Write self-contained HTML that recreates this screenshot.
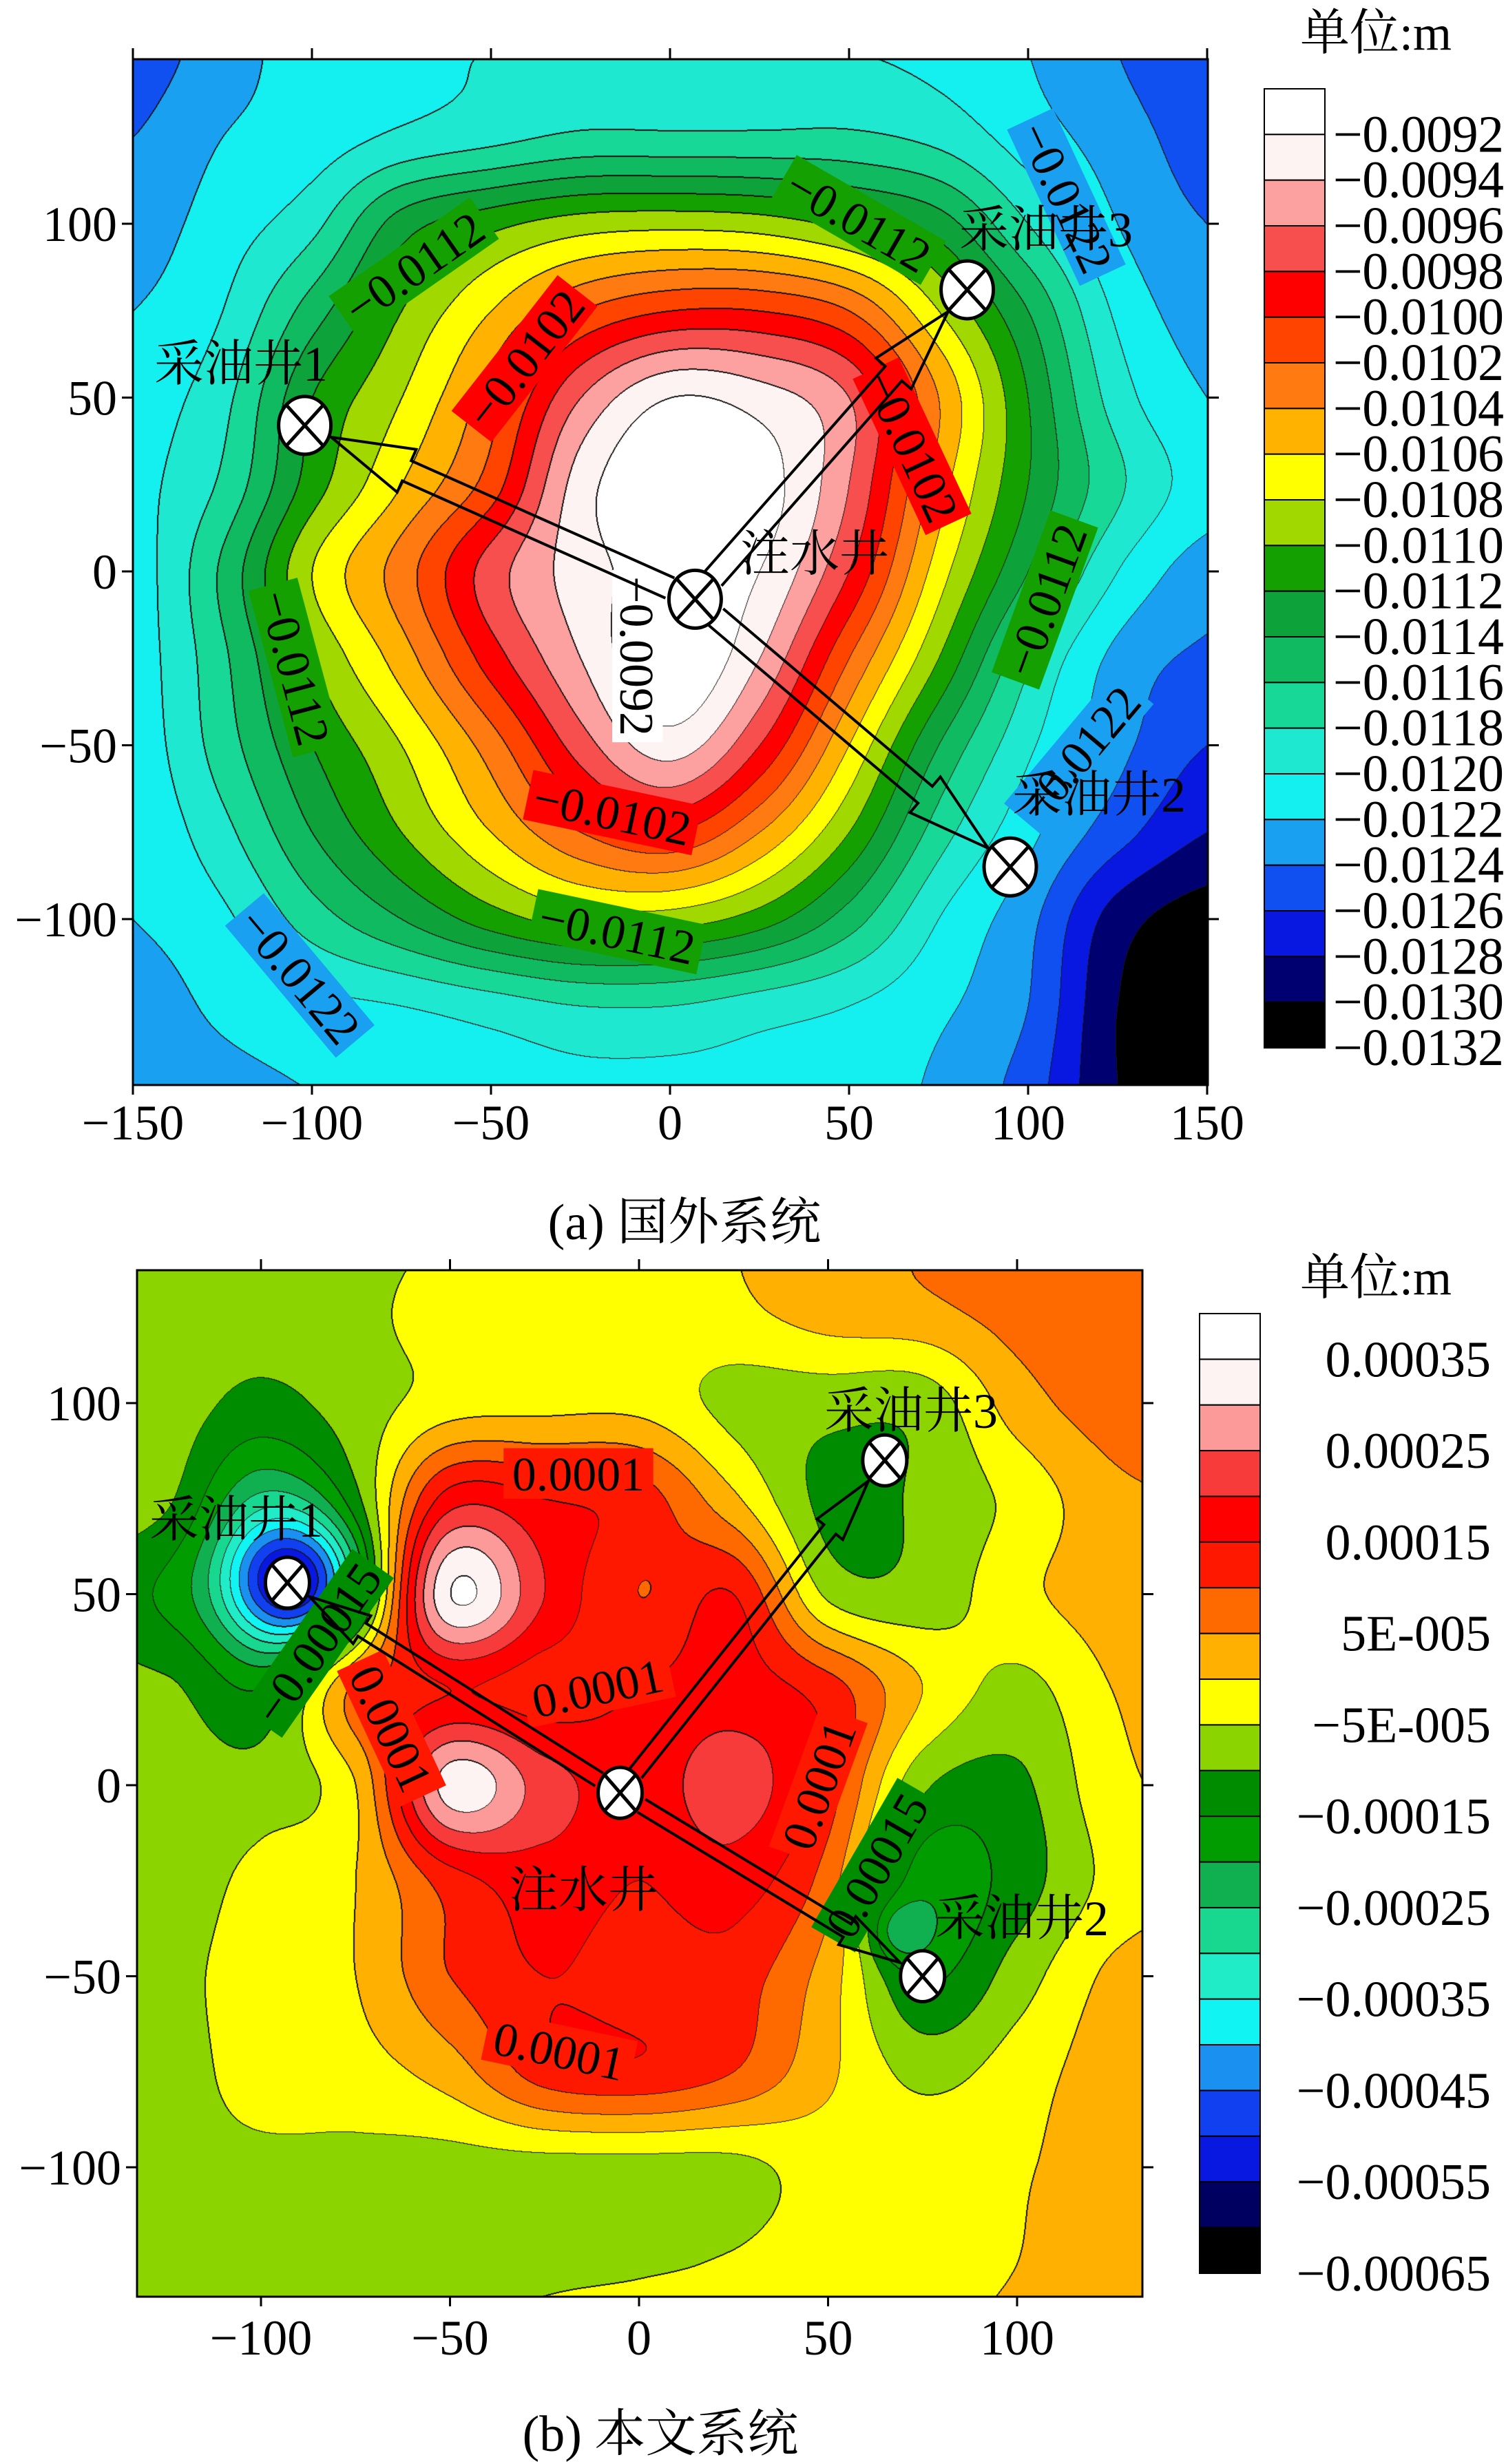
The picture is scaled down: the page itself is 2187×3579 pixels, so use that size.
<!DOCTYPE html>
<html><head><meta charset="utf-8">
<style>
html,body{margin:0;padding:0;background:#fff;}
#root{position:relative;width:2187px;height:3579px;overflow:hidden;background:#fff;}
canvas{position:absolute;}
svg{position:absolute;left:0;top:0;}
text{font-family:"Liberation Serif","Noto Serif CJK SC",serif;fill:#000;}
</style></head>
<body>
<div id="root">
<canvas id="cA" width="1561" height="1490" style="left:193px;top:86px"></canvas>
<canvas id="cB" width="1460" height="1491" style="left:199px;top:1845px"></canvas>
<svg id="ov" width="2187" height="3579"></svg>
</div>
<script>
// ---------- data ----------
const gridX = [-150,-125,-100,-75,-50,-25,0,25,50,75,100,125,150];
const gridY = [150,125,100,75,50,25,0,-25,-50,-75,-100,-125,-150];
// band index field (0 = top of colour scale), chart a
const fieldA = [
[17.5,16.5,15.5,15.2,15,15,15,15,15,15.3,16,17,18],
[17,16,15.5,14.8,14.3,13.8,13.8,13.8,13.8,14.3,15.5,16.5,17.5],
[16.5,15.5,14.3,11.5,10.3,9.5,9.3,9.5,10.3,11.5,14,16,17],
[16,15,12.5,10,8,6,5,5,6,9,12,15.2,16.5],
[15.5,14.3,11,9,6.5,3,1,1.5,3,7,11,14.5,16],
[15.3,13.8,10.5,8,5.5,1.5,0,0.5,3,7.5,11,13.8,15.5],
[15.5,12.8,9,6.5,3.5,1.5,0.5,1,4,8.5,12,15,16.5],
[15.5,13.2,10,7.5,4.5,2,0,2,6,10,13.8,16.3,17.2],
[15.6,13.5,11,9,6.5,3.5,1.5,4,8,12,14.8,16.7,18],
[15.8,14.3,12,10,8,6,5,7,10,13.5,15.7,17.6,19],
[16,15.2,13.5,12,10.5,9.5,9.5,10.5,12.5,15,16.7,19.5,20.5],
[16.5,15.8,15.3,15,14.5,14,14,14.5,15,15.8,17,20,20.5],
[16.8,16.3,16,15.8,15.5,15.3,15.3,15.3,15.5,16.2,17.5,20,20.5]];
// chart b
const fieldB = [
[9.5,9.5,9.5,9.5,9,8.5,8.5,8,7.5,7,6.5,6,6],
[9.5,9.5,9.5,9.3,8.5,8.5,8.5,8.2,7.5,7.2,6.6,6.3,6],
[9.5,9.5,10.3,9.5,8.5,8.3,8.3,9.3,9.6,9.6,7.5,6.5,6.2],
[9.3,9.8,12,9.8,4.5,5,5.5,7.8,10.3,9.8,8.7,7.3,7],
[10,11,11,10,1,4,6,5,9.2,9.6,8.3,7.5,7.3],
[9.5,9.8,10.5,6.5,5,5.5,5,4.5,5.5,8,9.3,8,7.5],
[8.8,9.3,9.5,8,1.5,3.5,4.5,3.5,5.5,9.8,10.2,8.3,7.8],
[9.3,9.5,8.7,8,5.5,4.5,5,4.5,6.5,11.5,10.5,8.7,8],
[9.5,9.3,8.5,8,6,5,5.5,5.5,7.5,11,9.5,7.8,7.5],
[9.5,9.5,8.5,8.4,7.5,5.5,5.2,6,7.8,9.3,8.5,7.5,7.3],
[9.5,9.4,9.3,9.3,9.4,9.4,9.4,9.3,8.5,8.3,8.1,7.5,7.3],
[9.5,9.5,9.6,9.5,9.4,9.2,9.1,8.9,8.3,8.2,8,7.5,7.3],
[9.5,9.5,9.5,9.4,9,8.6,8.4,8.3,8.2,8.1,7.8,7.4,7.2]];
const peakX = [-93, 68];
const peakY = [53, -38];
const peakAmp = [8.5, 2];
const peakSigma = [12, 6];
const paletteA = ['#ffffff','#fdf3f2','#fca0a0','#f74e4e','#ff0000','#ff4400','#ff7a10','#ffb300','#ffff00','#a0d800','#14a000','#0ea23a','#10ba60','#18d898','#1ee8d0','#14f0f0','#1aa0f0','#1050f0','#0818e0','#000070','#000000'];
const paletteB = ['#ffffff','#fdf3f2','#fc9a9a','#f73a3a','#ff0000','#ff1800','#ff6a00','#ffb000','#ffff00','#8cd400','#008c00','#009c00','#10b050','#18d890','#20ecc8','#10f4f4','#1a90f0','#1040f0','#0818e0','#000060','#000000'];
const cbLabelsA = ['−0.0092','−0.0094','−0.0096','−0.0098','−0.0100','−0.0102','−0.0104','−0.0106','−0.0108','−0.0110','−0.0112','−0.0114','−0.0116','−0.0118','−0.0120','−0.0122','−0.0124','−0.0126','−0.0128','−0.0130','−0.0132'];
const cbLabelsB = ['0.00035','0.00025','0.00015','5E-005','−5E-005','−0.00015','−0.00025','−0.00035','−0.00045','−0.00055','−0.00065'];
const xTicksA = [-150,-100,-50,0,50,100,150];
const yTicksA = [-100,-50,0,50,100];
const xTicksB = [-100,-50,0,50,100];
const yTicksB = [-100,-50,0,50,100];
const wellNames = ['采油井1','采油井2','采油井3','注水井'];
const wellXA = [-102, 95, 83, 7];
const wellYA = [42, -85, 81, -8];
const wellXB = [-93, 75, 65, -5];
const wellYB = [53, -50, 85, -2];

// ---------- axes ----------
const axA = {x:v=>193+(v+150)*5.2, y:v=>830-5.05*v, inv:(px,py)=>[(px-193)/5.2-150,(830-py)/5.05], left:193,top:86,w:1561,h:1490};
const axB = {x:v=>928+5.49*v, y:v=>2593-5.55*v, inv:(px,py)=>[(px-928)/5.49,(2593-py)/5.55], left:199,top:1845,w:1460,h:1491};

function cr(p0,p1,p2,p3,t){return 0.5*((2*p1)+(-p0+p2)*t+(2*p0-5*p1+4*p2-p3)*t*t+(-p0+3*p1-3*p2+p3)*t*t*t);}
function sample(g,x,y){
  const gx=(x-gridX[0])/25, gy=(gridY[0]-y)/25;
  let i=Math.floor(gx), j=Math.floor(gy);
  i=Math.max(0,Math.min(11,i)); j=Math.max(0,Math.min(11,j));
  const tx=gx-i, ty=gy-j;
  const n=gridX.length;
  const c=k=>Math.max(0,Math.min(n-1,k));
  const rows=[];
  for(let r=-1;r<=2;r++){const row=g[c(j+r)];rows.push(cr(row[c(i-1)],row[c(i)],row[c(i+1)],row[c(i+2)],tx));}
  return cr(rows[0],rows[1],rows[2],rows[3],ty);
}
function hex(h){return [parseInt(h.slice(1,3),16),parseInt(h.slice(3,5),16),parseInt(h.slice(5,7),16)];}
function drawField(id,ax,g,pal,usePeaks){
  const cv=document.getElementById(id),ctx=cv.getContext('2d');
  const W=ax.w,H=ax.h,band=new Uint8Array(W*H);
  for(let py=0;py<H;py++){for(let px=0;px<W;px++){
    const d=ax.inv(ax.left+px,ax.top+py);
    let v=sample(g,d[0],d[1]);
    if(usePeaks){for(let k=0;k<peakX.length;k++){const dx=d[0]-peakX[k],dy=d[1]-peakY[k];v+=peakAmp[k]*Math.exp(-(dx*dx+dy*dy)/(2*peakSigma[k]*peakSigma[k]));}}
    band[py*W+px]=Math.max(0,Math.min(20,Math.floor(v)));
  }}
  const img=ctx.createImageData(W,H),cols=pal.map(hex);
  for(let p=0;p<W*H;p++){
    let b=band[p],line=false;
    const px=p%W;
    if(px<W-1&&band[p+1]!==b)line=true;
    if(px>0&&band[p-1]!==b&&band[p-1]>b)line=true;
    if(p+W<W*H&&band[p+W]!==b)line=true;
    if(p-W>=0&&band[p-W]!==b&&band[p-W]>b)line=true;
    const c=line?[20,20,20]:cols[b];
    img.data[p*4]=c[0];img.data[p*4+1]=c[1];img.data[p*4+2]=c[2];img.data[p*4+3]=255;
  }
  ctx.putImageData(img,0,0);
}
drawField('cA',axA,fieldA,paletteA,false);
drawField('cB',axB,fieldB,paletteB,true);

// ---------- svg overlay ----------
const NS='http://www.w3.org/2000/svg', ov=document.getElementById('ov');
function el(tag,attrs,parent){const e=document.createElementNS(NS,tag);for(const k in attrs)e.setAttribute(k,attrs[k]);(parent||ov).appendChild(e);return e;}
function txt(s,x,y,size,anchor,parent){const t=el('text',{x:x,y:y,'font-size':size,'text-anchor':anchor||'start'},parent);t.textContent=s;return t;}

function frame(ax,xt,yt,fs,xlabY,ylabX){
  const r=el('rect',{x:ax.left,y:ax.top,width:ax.w,height:ax.h,fill:'none',stroke:'#000','stroke-width':3});
  
  
  xt.forEach(v=>{const x=ax.x(v);
    const t1=el('line',{x1:x,y1:ax.top,x2:x,y2:ax.top-16,stroke:'#000','stroke-width':3});
    
    
    const t2=el('line',{x1:x,y1:ax.top+ax.h,x2:x,y2:ax.top+ax.h+14,stroke:'#000','stroke-width':3});
    
    
    const l=txt(String(v).replace('-','−'),x,xlabY,fs,'middle');
    
    });
  yt.forEach(v=>{const y=ax.y(v);
    const t1=el('line',{x1:ax.left,y1:y,x2:ax.left-16,y2:y,stroke:'#000','stroke-width':3});
    
    
    const t2=el('line',{x1:ax.left+ax.w,y1:y,x2:ax.left+ax.w+16,y2:y,stroke:'#000','stroke-width':3});
    
    
    const l=txt(String(v).replace('-','−'),ylabX,y+25,fs,'end');
    
    });
}
frame(axA,xTicksA,yTicksA,72,1655,170);
frame(axB,xTicksB,yTicksB,72,3420,176);

function colorbar(x,top,bottom,pal,name){
  const h=(bottom-top)/pal.length;
  pal.forEach((c,k)=>{const r=el('rect',{x:x,y:top+k*h,width:88,height:h,fill:c,stroke:'#000','stroke-width':2});
    
    });
  return h;
}
const hA=colorbar(1836,129,1522,paletteA,'colorbar-a');
cbLabelsA.forEach((s,k)=>{const t=txt(s,1936,129+(k+1)*hA+25,76,'start');t.setAttribute('textLength',248);
  
  });
const hB=colorbar(1742,1908,3302,paletteB,'colorbar-b');
cbLabelsB.forEach((s,k)=>{const t=txt(s,2165,1908+(2*k+1)*hB+25,74,'end');
  
  });
[[1998,72],[1998,1880]].forEach((p,i)=>{const t=txt('单位:m',p[0],p[1],72,'middle');
  
  });
const capA=txt('(a) 国外系统',994,1800,74,'middle');


const capB=txt('(b) 本文系统',959,3560,74,'middle');



// contour labels
function clabel(s,cx,cy,rot,fill,fs,name){
  const g=el('g',{transform:`translate(${cx},${cy}) rotate(${rot})`});
  
  
  const w=s.length*fs*0.47+20;
  if(fill)el('rect',{x:-w/2,y:-fs*0.55,width:w,height:fs*1.05,fill:fill},g);
  txt(s,0,fs*0.33,fs,'middle',g);
}
clabel('−0.0112',602,390,-35,'#14a000',70,'contour-label');
clabel('−0.0112',1246,321,30,'#14a000',70,'contour-label');
clabel('−0.0122',1547,287,65,'#1aa0f0',70,'contour-label');
clabel('−0.0102',763,522,-52,'#ff0000',70,'contour-label');
clabel('−0.0102',1323,649,65,'#ff0000',70,'contour-label');
clabel('−0.0112',1519,872,-70,'#14a000',70,'contour-label');
clabel('−0.0112',427,970,75,'#14a000',70,'contour-label');
clabel('−0.0092',924,953,90,'#ffffff',70,'contour-label');
clabel('−0.0122',1568,1096,-50,'#1aa0f0',70,'contour-label');
clabel('−0.0102',889,1182,12,'#ff0000',70,'contour-label');
clabel('−0.0112',896,1355,12,'#14a000',70,'contour-label');
clabel('−0.0122',434,1418,50,'#1aa0f0',70,'contour-label');
clabel('0.0001',840,2142,0,'#ff1800',70,'contour-label');
clabel('−0.00015',462,2388,-55,'#008c00',70,'contour-label');
clabel('0.0001',567,2511,65,'#ff1800',70,'contour-label');
clabel('0.0001',868,2453,-12,'#ff1800',70,'contour-label');
clabel('0.0001',1190,2593,-70,'#ff1800',70,'contour-label');
clabel('0.00015',1274,2710,-60,'#008c00',70,'contour-label');
clabel('0.0001',812,2980,12,'#ff1800',70,'contour-label');

// arrows
function arrow(ax,x0,y0,x1,y1,w,h,L,r0,r1){
  const X0=ax.x(x0),Y0=ax.y(y0),X1=ax.x(x1),Y1=ax.y(y1);
  const dx=X1-X0,dy=Y1-Y0,len=Math.hypot(dx,dy),ux=dx/len,uy=dy/len,nx=-uy,ny=ux;
  const sx=X0+ux*r0,sy=Y0+uy*r0,tx=X1-ux*r1,ty=Y1-uy*r1,bx=tx-ux*L,by=ty-uy*L;
  const pts=[[sx+nx*w,sy+ny*w],[bx+nx*w,by+ny*w],[bx+nx*h,by+ny*h],[tx,ty],[bx-nx*h,by-ny*h],[bx-nx*w,by-ny*w],[sx-nx*w,sy-ny*w]];
  const p=el('polyline',{points:pts.map(q=>q.join(',')).join(' '),fill:'none',stroke:'#000','stroke-width':4,'stroke-linejoin':'miter'});
  
  
}
for(let k=0;k<3;k++)arrow(axA,wellXA[3],wellYA[3],wellXA[k],wellYA[k],16,34,120,40,42);
for(let k=0;k<3;k++)arrow(axB,wellXB[3],wellYB[3],wellXB[k],wellYB[k],11,24,90,36,38);

// wells
function well(ax,x,y,rx,ry){
  const X=ax.x(x),Y=ax.y(y);
  const g=el('g',{});
  
  
  el('ellipse',{cx:X,cy:Y,rx:rx,ry:ry,fill:'#fff',stroke:'#000','stroke-width':5},g);
  const d=rx*0.7,e=ry*0.7;
  el('line',{x1:X-d,y1:Y-e,x2:X+d,y2:Y+e,stroke:'#000','stroke-width':5},g);
  el('line',{x1:X-d,y1:Y+e,x2:X+d,y2:Y-e,stroke:'#000','stroke-width':5},g);
}
for(let k=0;k<4;k++){well(axA,wellXA[k],wellYA[k],38,42);well(axB,wellXB[k],wellYB[k],32,37);}
const labA=[[350,528],[1596,1154],[1519,333],[1183,804]];
const labB=[[343,2207],[1484,2786],[1323,2049],[847,2745]];
for(let k=0;k<4;k++){
  const t=txt(wellNames[k],labA[k][0],labA[k][1]+25,72,'middle');
  
  
  const u=txt(wellNames[k],labB[k][0],labB[k][1]+25,72,'middle');
  
  
}
</script>
</body></html>
